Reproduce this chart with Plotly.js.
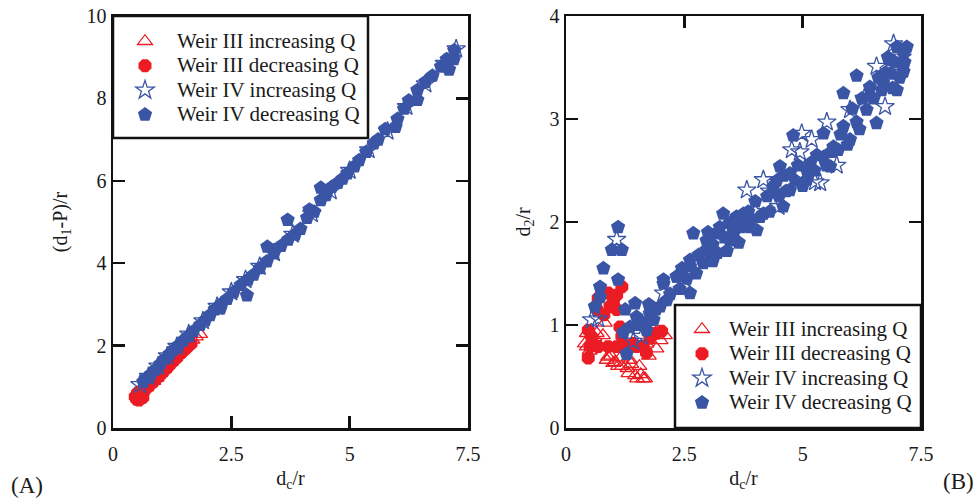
<!DOCTYPE html>
<html>
<head>
<meta charset="utf-8">
<script src="https://cdn.plot.ly/plotly-3.0.1.min.js"></script>
<style>html,body{margin:0;padding:0;background:#fff;}#chart{width:979px;height:498px;}</style>
</head>
<body>
<div id="chart"></div>
<script>
// ---------- Panel A: (d1-P)/r vs dc/r ----------
var A_inc3_x = [0.55,0.62,0.7,0.78,0.85,0.92,1.0,1.08,1.15,1.22,1.3,1.38,1.45,1.52,1.6,1.68,1.75,1.84];
var A_inc3_y = [0.82,0.9,0.98,1.08,1.14,1.22,1.33,1.43,1.52,1.6,1.7,1.8,1.88,1.96,2.04,2.14,2.22,2.28];
var A_dec3_x = [0.47,0.5,0.52,0.55,0.58,0.6,0.63,0.68,0.75,0.82,0.9,0.98,1.05,1.15,1.25,1.35,1.45,1.55,1.65];
var A_dec3_y = [0.76,0.7,0.85,0.68,0.78,0.9,0.74,0.94,1.02,1.09,1.18,1.27,1.35,1.47,1.6,1.71,1.83,1.94,2.05];
var A_inc4_x = [0.57,0.75,0.95,1.15,1.35,1.6,1.9,2.2,2.5,2.8,3.1,3.4,3.8,4.2,4.6,5.0,5.4,5.8,6.2,6.6,7.0,7.25];
var A_inc4_y = [1.05,1.25,1.5,1.75,1.98,2.28,2.6,2.95,3.3,3.6,3.92,4.25,4.7,5.2,5.75,6.25,6.75,7.2,7.8,8.35,8.85,9.2];
var A_dec4_x = [0.64,0.72,0.8,0.9,1.0,1.1,1.2,1.28,1.38,1.48,1.58,1.7,1.84,1.95,2.05,2.15,2.27,2.3,2.41,2.55,2.7,2.83,2.85,2.97,3.1,3.26,3.25,3.4,3.55,3.69,3.7,3.85,3.96,4.1,4.15,4.25,4.39,4.39,4.5,4.62,4.75,4.85,4.95,5.1,5.2,5.35,5.51,5.6,5.75,5.97,6.01,6.15,6.25,6.43,6.43,6.6,6.75,6.93,7.05,7.1,7.21,7.2];
var A_dec4_y = [1.12,1.22,1.3,1.42,1.55,1.68,1.8,1.9,2.0,2.12,2.22,2.35,2.5,2.62,2.74,2.88,2.9,3.02,3.13,3.3,3.47,3.22,3.6,3.72,3.88,4.4,4.04,4.24,4.42,5.05,4.57,4.7,4.83,5.1,5.3,5.25,5.83,5.53,5.65,5.85,5.95,6.05,6.18,6.35,6.5,6.7,6.91,7.0,7.25,7.31,7.5,7.75,7.95,8.2,7.96,8.4,8.55,8.77,8.95,8.7,9.17,8.95];

// ---------- Panel B: d2/r vs dc/r ----------
var B_inc3_x = [0.4,0.44,0.44,0.5,0.6,0.65,0.78,0.82,0.86,0.89,0.95,1.0,1.04,1.1,1.15,1.18,1.3,1.32,1.35,1.38,1.46,1.5,1.55,1.58,1.63,1.67,1.7,1.75,1.85,1.91,2.0,2.09];
var B_inc3_y = [0.82,0.92,0.79,0.75,0.88,0.92,0.9,1.02,0.66,0.69,0.7,0.63,0.64,0.6,0.68,0.6,0.58,0.53,0.66,0.62,0.51,0.48,0.6,0.52,0.48,0.48,0.82,0.7,0.95,0.77,0.85,0.9];
var B_dec3_x = [0.47,0.51,0.68,0.89,1.07,1.25,0.47,0.65,0.68,0.89,1.07,1.18,0.93,1.07,1.14,1.18,1.49,1.63,1.77,1.91,1.7,2.02,1.42,0.55,0.8,1.0];
var B_dec3_y = [0.68,0.79,0.79,0.79,0.79,0.79,0.95,1.15,1.26,1.31,1.29,1.37,1.18,1.15,0.98,0.89,0.79,0.79,0.87,0.92,0.73,0.94,0.82,0.88,1.1,1.22];
var B_inc4_x = [0.54,0.68,1.07,1.42,1.6,2.06,2.5,3.0,3.5,3.82,4.0,4.17,4.3,4.49,4.77,4.94,4.98,5.19,5.26,5.37,5.51,5.72,6.0,6.3,6.56,6.74,6.9,6.92,7.1];
var B_inc4_y = [1.05,1.06,1.83,0.84,0.89,1.31,1.45,1.7,1.95,2.31,2.1,2.41,2.3,2.15,2.7,2.68,2.86,2.8,2.39,2.38,2.97,2.55,3.09,3.2,3.51,3.12,3.45,3.73,3.6];
var B_dec4_x = [1.1,0.97,1.18,0.79,0.72,1.1,0.72,0.61,1.25,1.46,1.28,1.21,1.35,1.49,1.63,1.77,1.99,2.13,2.06,2.34,2.62,2.69,2.97,3.18,3.46,3.75,4.03,3.75,4.38,4.73,5.16,5.44,5.65,4.8,5.44,5.86,6.0,6.14,5.86,6.14,6.56,6.35,6.42,6.42,6.7,6.85,7.13,7.13,6.99,6.85,6.67,6.99,4.59,4.17,5.09,3.32,2.97,2.62,2.34,2.62,2.06,3.04,3.46,3.89,4.73,5.09,5.58,4.52,
  2.2,2.4,2.45,2.55,2.75,2.8,2.9,3.0,3.1,3.1,3.2,3.25,3.35,3.4,3.55,3.6,3.65,3.7,3.85,3.9,4.0,4.1,4.25,4.3,4.45,4.5,4.6,4.65,4.85,4.9,5.0,5.25,5.3,5.5,5.6,5.75,5.8,5.95,6.05,6.2,6.25,6.5,6.6,6.75,6.8,6.95,7.05,7.15,7.2,6.9,1.55,1.7,1.85,1.9,1.75];
var B_dec4_y = [1.95,1.73,1.73,1.55,1.37,1.44,1.27,1.18,1.15,1.21,0.72,0.93,0.98,1.08,1.02,1.11,1.18,1.24,1.4,1.47,1.63,1.89,1.73,1.89,1.99,2.08,1.92,2.02,2.34,2.47,2.57,2.63,2.73,2.84,2.86,2.93,2.8,2.97,3.25,3.42,2.96,3.09,3.22,3.31,3.35,3.44,3.46,3.64,3.7,3.57,3.28,3.28,2.15,2.08,2.41,2.08,1.82,1.57,1.47,1.31,1.44,1.63,1.82,2.02,2.31,2.5,2.54,2.54,
  1.3,1.35,1.55,1.45,1.5,1.68,1.6,1.9,1.62,1.78,1.7,1.95,1.85,1.72,1.9,2.05,1.8,1.95,2.1,1.95,2.2,2.05,2.25,2.1,2.4,2.25,2.45,2.3,2.4,2.55,2.35,2.5,2.65,2.55,2.68,2.7,2.85,2.75,3.1,2.9,3.2,3.2,3.4,3.45,3.6,3.55,3.4,3.55,3.7,3.3,1.0,0.95,1.05,1.15,1.2];

var seriesNames = ['Weir III increasing Q','Weir III decreasing Q','Weir IV increasing Q','Weir IV decreasing Q'];
var RED = '#ec1c24', BLUE = '#3a55a5';
var FONT = '"Liberation Serif", "Times New Roman", Times, serif';
var TXT = '#1a1a1a';

function lbl(s){ return '<span style="font-size:21px">' + s + '</span>'; }

function mk(x, y, i, xa, ya, leg) {
  var sym = ['triangle-up-open','octagon','star-open','pentagon'][i];
  var col = i < 2 ? RED : BLUE;
  var m = {symbol: sym, color: col, size: [13,14,14,15][i]};
  if (i === 0 || i === 2) m.line = {color: col, width: 1.3};
  else m.line = {width: 0};
  return {x: x, y: y, type: 'scatter', mode: 'markers', name: lbl(seriesNames[i]),
          xaxis: xa, yaxis: ya, legend: leg, marker: m, hoverinfo: 'skip'};
}

var data = [
  mk(A_inc3_x, A_inc3_y, 0, 'x', 'y', 'legend'),
  mk(A_dec3_x, A_dec3_y, 1, 'x', 'y', 'legend'),
  mk(A_inc4_x, A_inc4_y, 2, 'x', 'y', 'legend'),
  mk(A_dec4_x, A_dec4_y, 3, 'x', 'y', 'legend'),
  mk(B_inc3_x, B_inc3_y, 0, 'x2', 'y2', 'legend2'),
  mk(B_dec3_x, B_dec3_y, 1, 'x2', 'y2', 'legend2'),
  mk(B_inc4_x, B_inc4_y, 2, 'x2', 'y2', 'legend2'),
  mk(B_dec4_x, B_dec4_y, 3, 'x2', 'y2', 'legend2')
];

var W = 979, H = 498;
function px(v){ return v / W; }
function py(v){ return (H - v) / H; }

var axCommon = {
  showline: true, linewidth: 2.5, linecolor: '#111', mirror: 'ticks',
  ticks: 'inside', ticklen: 12, tickwidth: 2.5, tickcolor: '#111',
  showgrid: false, zeroline: false, fixedrange: true,
  tickfont: {family: FONT, size: 20, color: TXT}
};
function ax(extra){ return Object.assign({}, axCommon, extra); }
var titleFont = {family: FONT, size: 20, color: TXT};

var layout = {
  width: W, height: H,
  margin: {l: 0, r: 0, t: 0, b: 0},
  paper_bgcolor: '#fff', plot_bgcolor: '#fff',
  font: {family: FONT, color: TXT},
  showlegend: true,
  xaxis: ax({domain: [px(113), px(468)], range: [0, 7.5], dtick: 2.5, anchor: 'y', ticklabelstandoff: 6,
    title: {text: 'd<sub>c</sub>/r', font: titleFont, standoff: 8}}),
  yaxis: ax({domain: [py(428), py(16)], range: [0, 10], dtick: 2, anchor: 'x',
    title: {text: '(d<sub>1</sub>-P)/r', font: titleFont, standoff: 14}}),
  xaxis2: ax({domain: [px(566), px(921)], range: [0, 7.5], dtick: 2.5, anchor: 'y2', ticklabelstandoff: 6,
    title: {text: 'd<sub>c</sub>/r', font: titleFont, standoff: 8}}),
  yaxis2: ax({domain: [py(428), py(16)], range: [0, 4], dtick: 1, anchor: 'x2',
    title: {text: 'd<sub>2</sub>/r', font: titleFont, standoff: 14}}),
  legend: {x: px(113), xanchor: 'left', y: py(24), yanchor: 'top',
    bgcolor: 'rgba(0,0,0,0)', borderwidth: 0, itemwidth: 54,
    font: {family: FONT, size: 16.5, color: TXT}, itemclick: false, itemdoubleclick: false},
  legend2: {x: px(675), xanchor: 'left', y: py(312), yanchor: 'top',
    bgcolor: 'rgba(0,0,0,0)', borderwidth: 0, itemwidth: 44,
    font: {family: FONT, size: 16.5, color: TXT}, itemclick: false, itemdoubleclick: false},
  shapes: [
    {type: 'rect', xref: 'paper', yref: 'paper', x0: px(113), x1: px(368), y0: py(138), y1: py(16),
     fillcolor: '#fff', line: {color: '#111', width: 2.5}, layer: 'above'},
    {type: 'rect', xref: 'paper', yref: 'paper', x0: px(675), x1: px(921), y0: py(428), y1: py(305),
     fillcolor: '#fff', line: {color: '#111', width: 2.5}, layer: 'above'}
  ],
  annotations: [
    {text: '(A)', xref: 'paper', yref: 'paper', x: px(27), y: py(485), xanchor: 'center', yanchor: 'middle',
     showarrow: false, font: {family: FONT, size: 23, color: TXT}},
    {text: '(B)', xref: 'paper', yref: 'paper', x: px(958), y: py(481), xanchor: 'center', yanchor: 'middle',
     showarrow: false, font: {family: FONT, size: 23, color: TXT}}
  ]
};

Plotly.newPlot('chart', data, layout, {displayModeBar: false, staticPlot: true});
</script>
</body>
</html>
